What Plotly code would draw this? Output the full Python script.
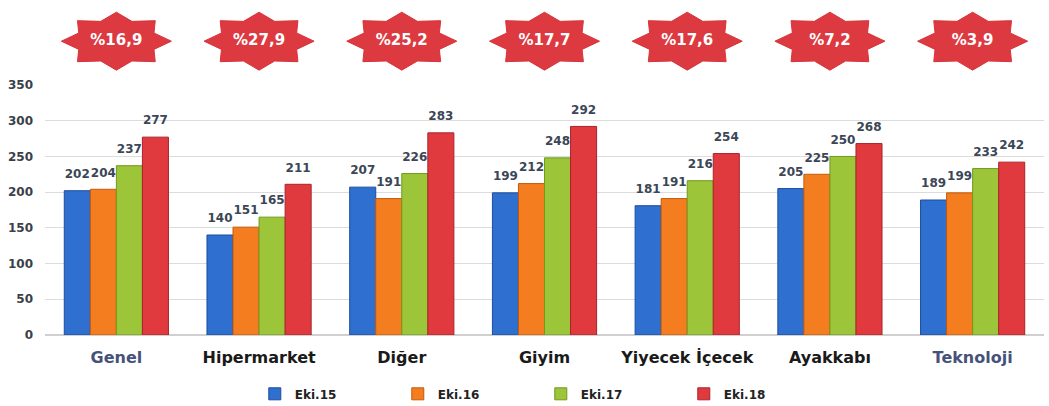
import plotly.graph_objects as go
import math

categories = ["Genel", "Hipermarket", "Diğer", "Giyim", "Yiyecek İçecek", "Ayakkabı", "Teknoloji"]
label_colors = ["#46527a", "#1a1a1a", "#1a1a1a", "#1a1a1a", "#1a1a1a", "#1a1a1a", "#46527a"]
series_names = ["Eki.15", "Eki.16", "Eki.17", "Eki.18"]
eki15 = [202, 140, 207, 199, 181, 205, 189]
eki16 = [204, 151, 191, 212, 191, 225, 199]
eki17 = [237, 165, 226, 248, 216, 250, 233]
eki18 = [277, 211, 283, 292, 254, 268, 242]
growth = ["%16,9", "%27,9", "%25,2", "%17,7", "%17,6", "%7,2", "%3,9"]

series_values = [eki15, eki16, eki17, eki18]
colors = ["#2f6fd0", "#f47d1f", "#9cc53a", "#e03a3f"]
edges = ["#1d4d9a", "#c45a0c", "#6f9a1c", "#a8232a"]
BARGAP = 0.27

fig = go.Figure()
for name, vals, c, e in zip(series_names, series_values, colors, edges):
    fig.add_trace(go.Bar(
        x=categories, y=vals, name=name,
        marker=dict(color=c, line=dict(color=e, width=1)),
        hoverinfo="x+y+name",
    ))

# value labels: invisible markers at the bar tops, on a numeric x axis overlaying the category axis
bw = (1.0 - BARGAP) / len(series_values)
for j, vals in enumerate(series_values):
    fig.add_trace(go.Scatter(
        x=[i + (j - 1.5) * bw for i in range(len(categories))], y=vals,
        xaxis="x3", yaxis="y", mode="markers+text",
        marker=dict(size=14, opacity=0),
        text=[str(v) for v in vals], textposition="top center",
        textfont=dict(family="DejaVu Sans", size=12, color="#3b4656", weight="bold"),
        cliponaxis=False, showlegend=False, hoverinfo="skip"))

# starburst badges on an overlay axis (x in category index units, y in pixel units)
W = 999.0
unit_px = W / 7.0
rx = 55.0 / unit_px
ry = 29.0
inner = 0.74
xs, ys = [], []
for i in range(len(categories)):
    for k in range(17):
        ang = math.pi * k / 8.0
        r = 1.0 if k % 2 == 0 else inner
        xs.append(i + rx * r * math.cos(ang))
        ys.append(ry * r * math.sin(ang))
    xs.append(None)
    ys.append(None)
fig.add_trace(go.Scatter(
    x=xs, y=ys, xaxis="x2", yaxis="y2", mode="lines", fill="toself",
    fillcolor="#dc3a40", line=dict(color="#d8343a", width=1),
    showlegend=False, hoverinfo="skip"))
fig.add_trace(go.Scatter(
    x=list(range(len(categories))), y=[0] * len(categories), xaxis="x2", yaxis="y2",
    mode="text", text=growth,
    textfont=dict(family="DejaVu Sans", size=15, color="white", weight="bold"),
    showlegend=False, hoverinfo="skip"))

ticktext = [f"<span style='color:{c}'>{t}</span>" for t, c in zip(categories, label_colors)]

fig.update_layout(
    width=1049, height=406,
    margin=dict(l=45, r=5, t=3, b=71, autoexpand=False),
    paper_bgcolor="white", plot_bgcolor="rgba(0,0,0,0)",
    barmode="group", bargap=BARGAP, bargroupgap=0.0,
    font=dict(family="DejaVu Sans", color="#333"),
    xaxis=dict(
        tickmode="array", tickvals=categories, ticktext=ticktext,
        tickfont=dict(family="DejaVu Sans", size=16, color="#1a1a1a", weight="bold"),
        ticks="outside", ticklen=8, tickcolor="rgba(0,0,0,0)",
        showline=True, linecolor="#d0d0d0", linewidth=1,
        domain=[0, 1], automargin=False,
    ),
    xaxis3=dict(range=[-0.5, 6.5], overlaying="x", anchor="y",
                visible=False, fixedrange=True),
    yaxis=dict(
        range=[0, 350], dtick=50, domain=[0, 250.0 / 332.0],
        showgrid=True, gridcolor="#dcdcdc", gridwidth=1,
        zeroline=True, zerolinecolor="#cfcfcf",
        tickfont=dict(family="DejaVu Sans", size=12, color="#3a3f4a", weight="bold"),
        ticks="", ticklabelstandoff=11, automargin=False,
    ),
    xaxis2=dict(range=[-0.5, 6.5], anchor="y2", domain=[0, 1],
                visible=False, fixedrange=True),
    yaxis2=dict(range=[-38.2, 38.2], domain=[0.77, 1], anchor="x2",
                visible=False, fixedrange=True),
    legend=dict(
        orientation="h", x=0.21, xanchor="left",
        yref="container", y=0.03, yanchor="middle",
        entrywidth=98, entrywidthmode="pixels",
        font=dict(family="DejaVu Sans", size=12, color="#222", weight="bold"),
        itemwidth=30, traceorder="normal",
    ),
)

fig.write_html("out.html", config={"displayModeBar": False},
               post_script="document.body.style.margin='0';")
